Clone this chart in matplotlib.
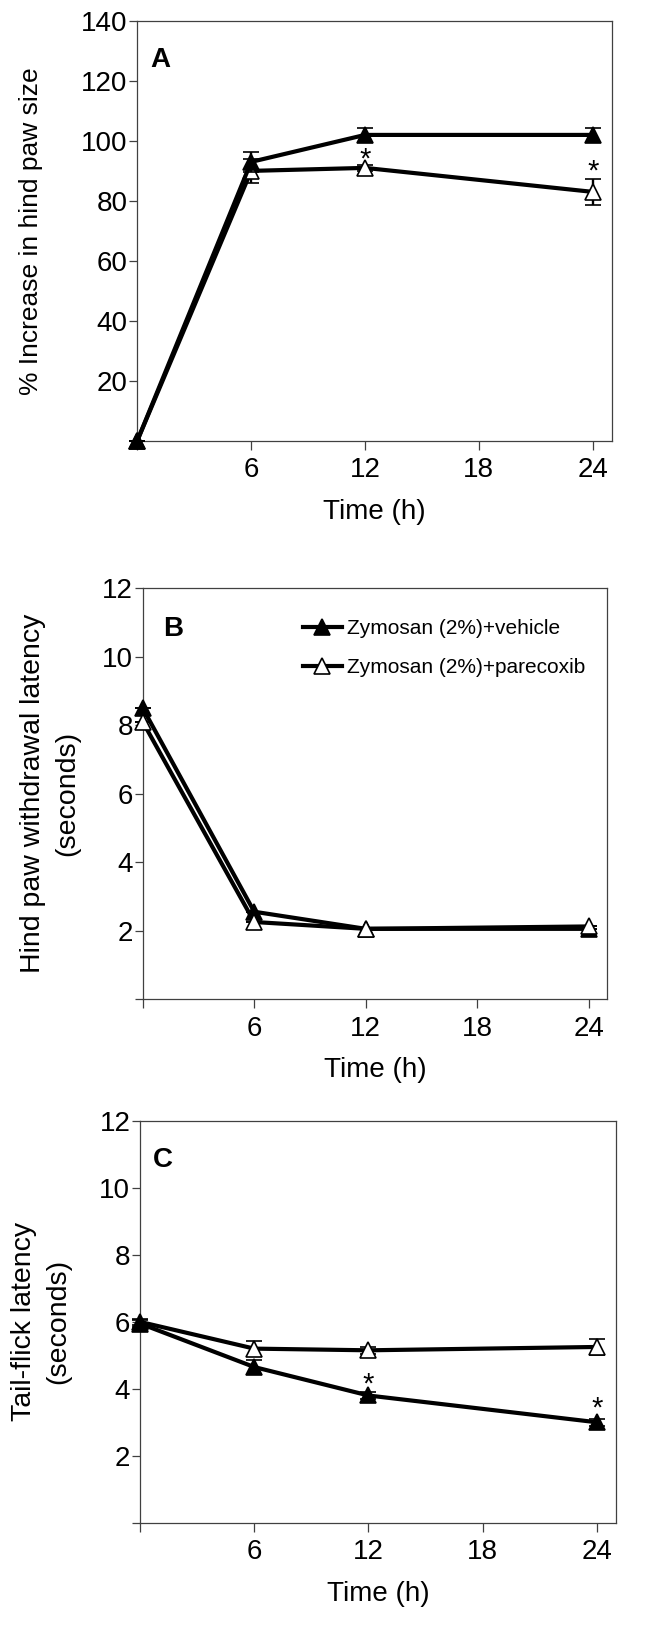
import matplotlib
matplotlib.use("Agg")
import matplotlib.pyplot as plt
from matplotlib.lines import Line2D

plt.rcParams['font.family'] = ['Liberation Sans', 'DejaVu Sans']

time = [0, 6, 12, 24]
series_names = ["Zymosan (2%)+vehicle", "Zymosan (2%)+parecoxib"]

# Panel A: % increase in hind paw size
A_vehicle = [0, 93, 102, 102]
A_vehicle_err = [0, 3.3, 2.4, 2.4]
A_parecoxib = [0, 90, 91, 83]
A_parecoxib_err = [0, 4.0, 1.0, 4.4]
A_stars_x = [12, 24]
A_stars_y = [95.8, 91.6]

# Panel B: hind paw withdrawal latency (s)
B_vehicle = [8.5, 2.55, 2.05, 2.05]
B_vehicle_err = [0, 0, 0, 0]
B_parecoxib = [8.1, 2.25, 2.05, 2.12]
B_parecoxib_err = [0, 0, 0, 0]

# Panel C: tail-flick latency (s)
C_vehicle = [5.95, 4.65, 3.8, 3.0]
C_vehicle_err = [0.1, 0.2, 0.1, 0.1]
C_parecoxib = [6.0, 5.2, 5.15, 5.25]
C_parecoxib_err = [0.1, 0.22, 0.1, 0.23]
C_stars_x = [12, 24]
C_stars_y = [4.3, 3.6]

xticks = [0, 6, 12, 18, 24]
xticklabels = ["", "6", "12", "18", "24"]

W, H = 649, 1637
fig = plt.figure(figsize=(W / 100, H / 100), dpi=100)

def px_axes(l, r, t, b):
    return fig.add_axes([l / W, 1 - b / H, (r - l) / W, (b - t) / H])

axA = px_axes(137.3, 611.7, 21.0, 440.7)
axB = px_axes(142.7, 607.3, 588.3, 999.0)
axC = px_axes(140.0, 616.0, 1121.0, 1522.7)

LW, MS, MEW = 3.0, 11.5, 1.2

def draw(ax, veh, veh_err, par, par_err, vehicle_on_top):
    zv, zp = (4, 3) if vehicle_on_top else (3, 4)
    common = dict(fmt='-^', color='k', mec='k', lw=LW, ms=MS, mew=MEW, capsize=5.8,
                  elinewidth=1.7, capthick=1.8, clip_on=False)
    h1 = ax.errorbar(time, veh, yerr=veh_err, mfc='k', zorder=zv, **common)
    h2 = ax.errorbar(time, par, yerr=par_err, mfc='white', zorder=zp, **common)
    for art in list(h1.lines[1]) + list(h1.lines[2]) + list(h2.lines[1]) + list(h2.lines[2]):
        art.set_clip_on(False)

def style(ax, ymax, ystep, ylabel, ylab_x, fs_ylab, letter, letter_xy):
    ax.set_xlim(0, 25)
    ax.set_ylim(0, ymax)
    ax.set_xticks(xticks)
    ax.set_xticklabels(xticklabels)
    yt = list(range(0, ymax + 1, ystep))
    ax.set_yticks(yt)
    ax.set_yticklabels([""] + [str(v) for v in yt[1:]])
    for s in ax.spines.values():
        s.set_linewidth(0.9)
        s.set_color('#404040')
    ax.tick_params(axis='x', direction='out', length=6.5, width=0.9, pad=5.5,
                   labelsize=20, color='#404040')
    ax.tick_params(axis='y', direction='out', length=5.5, width=0.9, pad=1.5,
                   labelsize=20, color='#404040')
    ax.set_xlabel("Time (h)", fontsize=20, labelpad=11)
    ax.set_ylabel(ylabel, fontsize=fs_ylab, va='center', linespacing=1.4)
    ax.yaxis.set_label_coords(ylab_x, 0.5)
    ax.text(letter_xy[0], letter_xy[1], letter, fontsize=20, fontweight='bold',
            ha='left', va='baseline')

def stars(ax, xs, ys):
    for x, y in zip(xs, ys):
        ax.annotate("*", (x, y), xytext=(0, -10), textcoords='offset points',
                    ha='center', va='baseline', fontsize=21)

draw(axA, A_vehicle, A_vehicle_err, A_parecoxib, A_parecoxib_err, True)
style(axA, 140, 20, "% Increase in hind paw size", -0.224, 19, "A", (0.67, 124.8))
stars(axA, A_stars_x, A_stars_y)

draw(axB, B_vehicle, B_vehicle_err, B_parecoxib, B_parecoxib_err, False)
style(axB, 12, 2, "Hind paw withdrawal latency\n(seconds)", -0.1995, 20.5, "B", (1.08, 10.62))
handles = [Line2D([], [], color='k', lw=LW, marker='^', ms=MS, mfc='k', mec='k', mew=MEW),
           Line2D([], [], color='k', lw=LW, marker='^', ms=MS, mfc='white', mec='k', mew=MEW)]
axB.legend(handles, series_names, loc='upper left', bbox_to_anchor=(0.345, 0.925),
           frameon=False, fontsize=15, handlelength=1.85, handletextpad=0.25,
           labelspacing=0.95, borderpad=0, borderaxespad=0)

draw(axC, C_vehicle, C_vehicle_err, C_parecoxib, C_parecoxib_err, True)
style(axC, 12, 2, "Tail-flick latency\n(seconds)", -0.207, 20.5, "C", (0.70, 10.64))
stars(axC, C_stars_x, C_stars_y)

fig.savefig("out.png", dpi=100)
